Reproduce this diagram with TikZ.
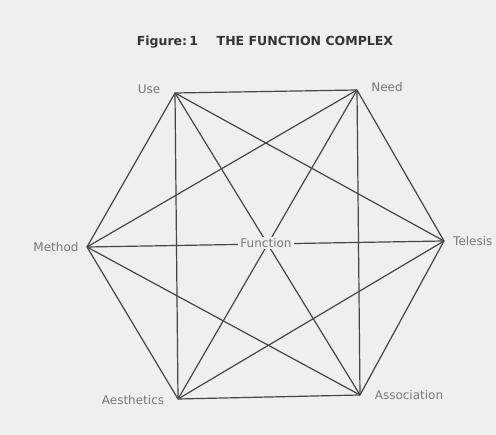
\documentclass[tikz,border=0pt]{standalone}
\usepackage{fontspec}
\setmainfont{DejaVu Sans}
\definecolor{paper}{RGB}{240,239,236}
\definecolor{ink}{RGB}{70,70,70}
\definecolor{labelgray}{RGB}{120,120,120}
\tikzset{
    edge/.style={ink, line width=1.2pt},
    lbl/.style={labelgray, font=\fontsize{12}{14}\selectfont, inner sep=1pt}
}
\begin{document}
\begin{tikzpicture}[x=1pt, y=-1pt]
        \useasboundingbox[fill=paper] (0,0) rectangle (496,435);

        \node[black!80, font=\bfseries\fontsize{12.5}{14}\selectfont] (title) at (265,42)
            {Figure:\,1\hspace{1.5em}THE FUNCTION COMPLEX};

        \coordinate (use) at (175,93);
        \coordinate (need) at (357,90);
        \coordinate (telesis) at (444,241);
        \coordinate (association) at (360,395);
        \coordinate (aesthetics) at (178,399);
        \coordinate (method) at (87,247);

        \foreach \a/\b in {use/need, use/telesis, use/association, use/aesthetics, use/method,
                           need/telesis, need/association, need/aesthetics, need/method,
                           telesis/association, telesis/aesthetics, telesis/method,
                           association/aesthetics, association/method,
                           aesthetics/method}
            \draw[edge] (\a) -- (\b);

        \node[lbl, fill=paper, inner xsep=2pt] (function) at (266,243) {Function};

        \node[lbl] (use_lbl) at (149,89) {Use};
        \node[lbl] (need_lbl) at (387,87) {Need};
        \node[lbl, anchor=west] (telesis_lbl) at (452,241) {Telesis};
        \node[lbl] (association_lbl) at (409,395) {Association};
        \node[lbl] (aesthetics_lbl) at (133,400) {Aesthetics};
        \node[lbl] (method_lbl) at (56,247) {Method};

    \end{tikzpicture}
\end{document}
